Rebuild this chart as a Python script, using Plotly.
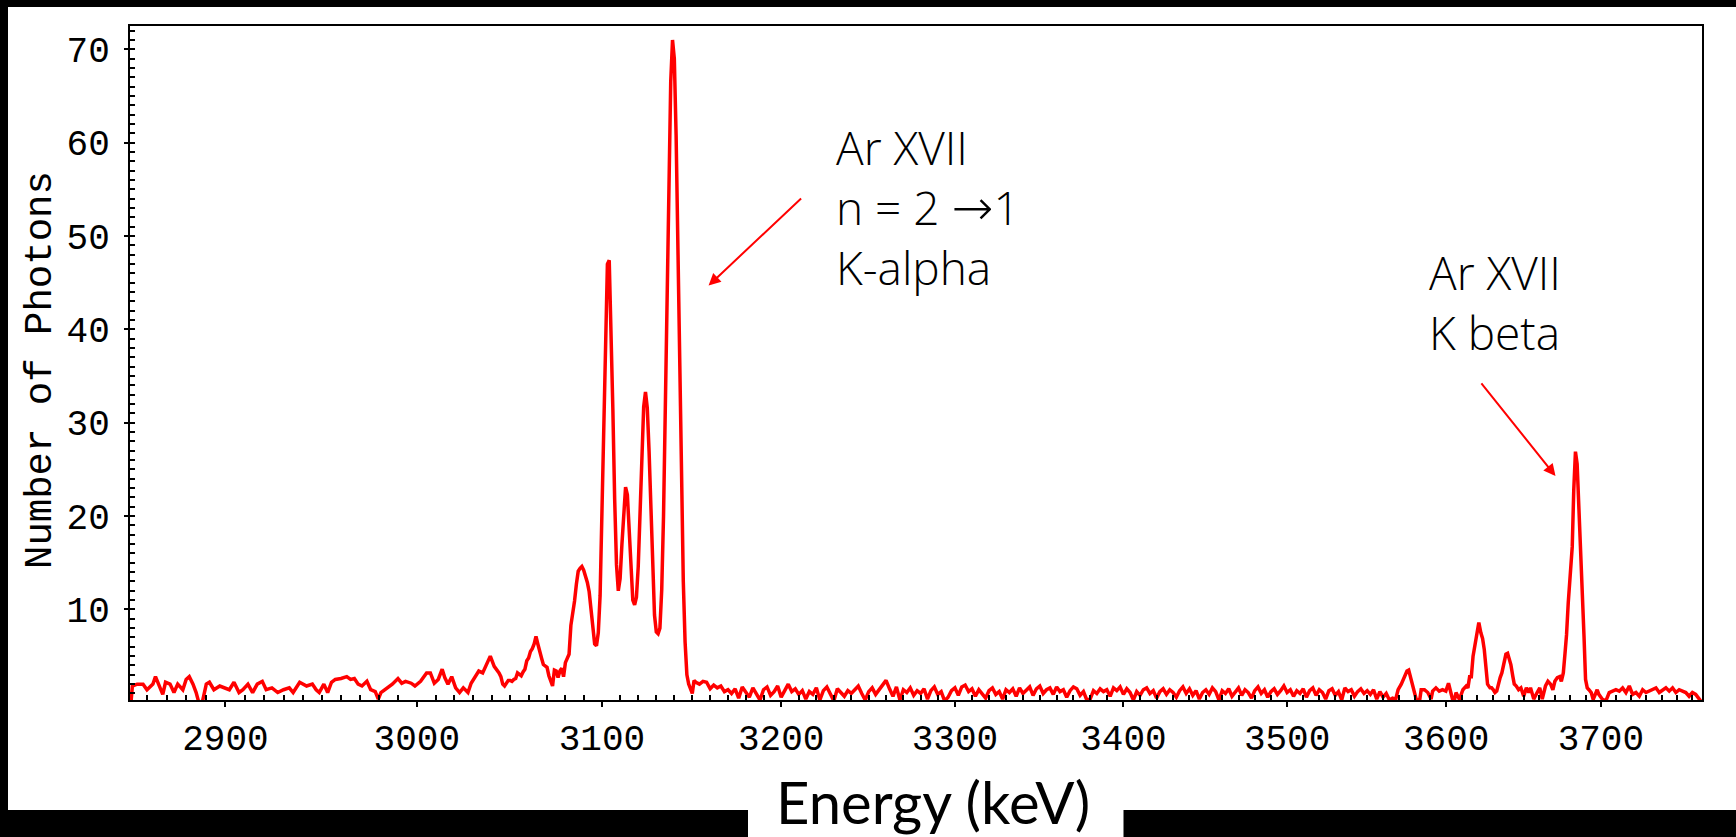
import numpy as np
import plotly.graph_objects as go

# ---------------- data ----------------
# Baseline left of the K-alpha complex
energy_left = [2852.0, 2852.6, 2855, 2858, 2860, 2863, 2864.3, 2866, 2868, 2869.4, 2871.7, 2873.7,
               2875.6, 2878.2, 2879.9, 2881.5, 2883.4, 2885, 2886.4, 2888.3, 2890.2, 2891.8, 2894.1,
               2897.1, 2900, 2902, 2904.4, 2907, 2909, 2911.6, 2914, 2916.4, 2919, 2921, 2924, 2927,
               2930, 2933, 2935, 2938.4, 2942, 2945, 2947, 2948.6, 2951, 2953, 2955, 2957, 2960, 2963,
               2965, 2967, 2969, 2971, 2973.6, 2975.6, 2978, 2979.6, 2981, 2983, 2985, 2987, 2990, 2992,
               2994, 2997, 2999, 3002, 3005.2, 3007.2, 3009.3, 3011.4, 3013.5, 3014.9, 3016.6, 3018.6,
               3020.7, 3022.8, 3024.8, 3027.3, 3029, 3031, 3033.1, 3035.2, 3036.8, 3039.3, 3041.4, 3043]
photons_left = [0.3, 1.8, 2.0, 2.0, 1.4, 2.0, 2.8, 1.8, 0.9, 2.2, 2.0, 1.1,
                2.0, 1.4, 2.5, 2.8, 2.0, 1.1, 0.0, 0.2, 2.0, 2.2, 1.4,
                1.8, 1.6, 1.4, 2.2, 1.1, 1.4, 2.0, 1.1, 2.0, 2.3, 1.4, 1.6, 1.1,
                1.4, 1.6, 1.1, 2.2, 1.8, 2.0, 1.4, 1.1, 2.0, 1.1, 2.2, 2.5, 2.6, 2.8,
                2.5, 2.6, 2.0, 1.8, 2.3, 1.4, 1.2, 0.4, 1.1, 1.4, 1.8, 2.0, 2.6, 2.1,
                2.3, 2.1, 1.8, 2.3, 3.2, 3.2, 2.1, 2.5, 3.6, 2.7, 2.0, 2.8,
                1.6, 1.1, 1.6, 1.1, 2.1, 2.7, 3.4, 3.2, 3.9, 5.0, 3.9, 3.5]

# K-alpha complex, 1 keV sampling
energy_kalpha = list(range(3044, 3152))
photons_kalpha = [3.2, 2.8, 2.0, 1.8, 2.2, 2.4, 2.4, 2.3, 2.5, 2.6,          # 3044-3053
                  3.2, 3.0, 2.9, 3.3, 3.6, 4.5, 4.8, 5.5, 5.8, 6.3,          # 3054-3063
                  7.1, 6.3, 5.7, 4.8, 4.1, 3.9, 3.8, 2.9, 2.2, 1.8,          # 3064-3073
                  3.5, 3.4, 2.7, 3.4, 3.7, 2.8, 4.3, 4.8, 5.2, 8.3,          # 3074-3083
                  9.5, 10.9, 12.7, 14.1, 14.4, 14.6, 14.2, 13.6, 12.9, 11.9, # 3084-3093
                  10.0, 8.2, 6.3, 6.1, 7.5, 11.5, 21.2, 31.4, 41.0, 47.0,    # 3094-3103
                  47.4, 41.0, 31.5, 21.8, 14.8, 12.0, 13.3, 17.0, 20.9, 23.1,# 3104-3113
                  22.3, 18.5, 13.7, 11.0, 10.5, 11.3, 14.6, 20.7, 27.1, 31.7,# 3114-3123
                  33.3, 31.6, 26.9, 20.6, 14.3, 9.4, 7.6, 7.4, 8.0, 12.1,    # 3124-3133
                  20.0, 30.8, 43.6, 56.5, 66.5, 71.0, 69.0, 60.8, 48.6, 35.2,# 3134-3143
                  22.9, 13.0, 6.5, 3.0, 2.0, 1.4, 1.0, 2.4]                  # 3144-3151

# Flat noisy baseline between the two line groups, 2 keV sampling
energy_mid = list(range(3152, 3570, 2))
photons_mid = [2.2, 2.0, 2.3, 2.2, 1.5, 1.9, 1.6, 1.8, 1.2, 1.4, 1.0, 1.5, 0.5, 1.7, 1.2, 0.6,   # 3152-3182
               1.6, 1.0, 0.3, 1.4, 1.7, 0.8, 1.2, 1.8, 0.6, 1.3, 2.0, 1.2, 1.5, 0.9, 1.3, 0.4,   # 3184-3214
               1.2, 0.9, 1.6, 0.3, 1.3, 1.7, 0.9, 0.2, 1.5, 1.1, 0.7, 1.3, 1.0, 1.4, 1.8, 1.0,   # 3216-3246
               0.3, 1.2, 1.6, 0.9, 1.4, 1.9, 2.4, 1.5, 0.7, 1.7, 0.3, 1.4, 1.1, 1.6, 0.8, 1.3,   # 3248-3278
               1.0, 1.5, 0.4, 1.3, 1.7, 0.9, 1.2, 0.2, 0.6, 1.3, 1.6, 0.8, 1.7, 1.9, 1.2, 1.5,   # 3280-3310
               0.7, 1.4, 1.0, 0.5, 1.3, 1.6, 0.9, 1.2, 0.4, 1.4, 1.1, 1.5, 0.7, 1.6, 1.0, 1.3,   # 3312-3342
               1.7, 0.8, 1.5, 1.8, 1.0, 1.4, 1.6, 0.9, 1.7, 1.2, 1.4, 0.6, 1.3, 1.7, 1.5, 0.8,   # 3344-3374
               1.2, 0.3, 0.4, 1.3, 1.0, 1.5, 1.2, 1.4, 0.7, 1.6, 1.3, 1.7, 0.9, 1.5, 1.1, 0.3,   # 3376-3406
               1.2, 0.8, 1.4, 1.6, 1.0, 1.3, 0.5, 1.2, 1.5, 0.9, 1.4, 1.1, 0.6, 1.3, 1.7, 1.0,   # 3408-3438
               1.5, 0.8, 1.3, 0.4, 1.1, 1.4, 0.9, 1.6, 1.2, 0.3, 1.3, 1.0, 1.5, 0.7, 1.2, 1.6,   # 3440-3470
               0.8, 1.4, 1.1, 0.5, 1.3, 1.7, 1.0, 1.4, 0.6, 1.2, 1.5, 0.9, 1.3, 1.8, 1.1, 1.4,   # 3472-3502
               0.7, 1.3, 1.0, 1.5, 0.6, 1.3, 1.6, 0.8, 1.4, 1.1, 0.4, 1.3, 1.5, 0.8, 1.2, 0.3,   # 3504-3534
               1.6, 1.2, 1.4, 0.7, 1.2, 1.5, 1.0, 1.3, 0.9, 1.4, 0.4, 1.2, 0.6, 1.0, 0.3, 0.5,   # 3536-3566
               0.4]                                                                              # 3568

# K-beta region
energy_kbeta = [3569.5, 3571.5, 3573.6, 3575.1, 3576.2, 3577.4, 3578.9, 3579.9, 3581, 3583.1, 3584.1,
                3586.2, 3588.3, 3590.4, 3591.4, 3593.5, 3595.6, 3597.7, 3599.8, 3601.5, 3603, 3604.1,
                3605.2, 3606.3, 3608.5, 3610.7, 3612.8, 3613.9, 3615, 3616.1, 3617.2, 3618.3, 3619.4,
                3620.9, 3622.2, 3623.3, 3624.4, 3625.4, 3626.5, 3628.1, 3629.1, 3630.2, 3631.3, 3632.4,
                3633.5, 3634.6, 3635.7, 3637.2, 3638.3, 3639.4, 3640.7, 3641.5, 3642.8, 3643.7, 3645,
                3646.5, 3648, 3649.8, 3651.5, 3653.1, 3654.2, 3656.3, 3658.5, 3660.2, 3661.8, 3663.9,
                3665.5, 3667.2, 3668.7, 3670, 3671.6, 3673.1, 3674.2, 3675.5, 3676.6, 3677.6, 3678.7,
                3680.3, 3681.3, 3682.3, 3683.4, 3684.5, 3685.6, 3686.8, 3687.9, 3689, 3690, 3691.1,
                3692.2, 3693.7, 3695, 3696.5, 3697.6, 3698.7, 3701.1, 3703.3, 3705.5, 3707.7, 3709.9,
                3712.1, 3714.3, 3716.5, 3718.7, 3720.9, 3723.1, 3725.3, 3727.5, 3729.7, 3731.9, 3734.1,
                3736.3, 3738.5, 3740.7, 3742.9, 3745.1, 3747.3, 3749.5, 3751.7, 3753.9, 3756.1, 3758.3,
                3760.5, 3762.7, 3764.9, 3766]
photons_kbeta = [1.4, 2.0, 2.7, 3.4, 3.5, 2.7, 2.0, 1.4, 0.36, 0.2, 1.4,
                 1.4, 1.1, 0.4, 1.25, 1.6, 1.25, 1.4, 1.25, 2.1, 1.1, 0.36,
                 0.2, 1.1, 0.36, 1.4, 1.8, 1.6, 2.8, 2.8, 5.0, 6.1, 7.5,
                 8.6, 7.5, 6.9, 5.7, 3.9, 2.0, 1.6, 1.6, 1.4, 1.1, 1.25,
                 2.1, 2.7, 3.2, 4.4, 5.2, 5.3, 4.6, 4.1, 2.8, 2.0, 1.8,
                 1.4, 1.6, 0.7, 1.6, 1.1, 1.6, 0.4, 1.1, 1.6, 0.4, 1.8,
                 2.3, 2.0, 1.4, 2.3, 2.7, 2.8, 2.3, 3.2, 5.3, 7.3, 10.7,
                 14.7, 16.7, 22.8, 26.9, 25.6, 21.3, 16.2, 13.3, 7.1, 2.5, 1.6,
                 1.4, 1.1, 0.36, 1.1, 1.4, 0.9, 0.36, 0.2, 1.1, 1.25, 1.4,
                 1.25, 1.6, 1.1, 1.8, 0.9, 1.1, 0.7, 1.4, 1.1, 1.25, 1.4,
                 1.6, 1.1, 1.4, 1.6, 1.25, 1.6, 1.1, 1.4, 1.25, 1.1, 0.7,
                 1.1, 0.9, 0.36, 0.2]

energy = energy_left + energy_kalpha + energy_mid + energy_kbeta
photons = photons_left + photons_kalpha + photons_mid + photons_kbeta

x_range_kev = [2851.4, 3766.9]
y_range = [0.3, 72.5]
x_major = [2900, 3000, 3100, 3200, 3300, 3400, 3500, 3600, 3700]
x_minor = [v for v in range(2860, 3770, 10) if v % 100 != 0]
y_major = [10, 20, 30, 40, 50, 60, 70]

# ---------------- figure ----------------
W, H = 1736, 837
L, R, T, B = 130, 34, 26, 137
pw, ph = W - L - R, H - T - B


def px2paper_x(px):
    return (px - L) / pw


def py2paper_y(py):
    return (H - B - py) / ph


fig = go.Figure()
fig.add_trace(go.Scatter(x=energy, y=photons, mode="lines",
                         line=dict(color="#ff0000", width=3.5), hoverinfo="x+y",
                         showlegend=False, cliponaxis=True))

tick_font = dict(family="Liberation Mono", size=36, color="black")
xr = [float(np.log10(x_range_kev[0])), float(np.log10(x_range_kev[1]))]

fig.update_layout(
    width=W, height=H,
    margin=dict(l=L, r=R, t=T, b=B),
    paper_bgcolor="white", plot_bgcolor="white",
    xaxis=dict(type="log", range=xr, tickmode="array", tickvals=x_major,
               ticktext=[str(v) for v in x_major], ticks="outside", ticklen=5,
               tickwidth=1.5, tickcolor="black", tickfont=tick_font,
               ticklabelstandoff=0,
               showline=True, linecolor="black", linewidth=2, mirror=True,
               showgrid=False, zeroline=False,
               minor=dict(tickmode="array", tickvals=x_minor, ticks="inside",
                          ticklen=5, tickwidth=1.5, tickcolor="black", showgrid=False)),
    yaxis=dict(range=y_range, tickmode="array", tickvals=y_major,
               ticks="outside", ticklen=4, tickwidth=1.5, tickcolor="black",
               tickfont=tick_font, ticklabelstandoff=7,
               showline=True, linecolor="black", linewidth=2, mirror=True,
               showgrid=False, zeroline=False,
               minor=dict(dtick=1, ticks="inside", ticklen=5, tickwidth=1.5,
                          tickcolor="black", showgrid=False)),
    xaxis2=dict(type="log", range=xr, overlaying="x", anchor="y", tickmode="array",
                tickvals=x_major, ticks="inside", ticklen=5, tickwidth=1.5,
                tickcolor="black", showticklabels=False, showline=False,
                showgrid=False, zeroline=False),
    yaxis2=dict(range=y_range, overlaying="y", anchor="x", side="left", tickmode="array",
                tickvals=y_major, ticks="inside", ticklen=5, tickwidth=1.5,
                tickcolor="black", showticklabels=False, showline=False,
                showgrid=False, zeroline=False),
)

label_font = dict(family="Open Sans", size=46, color="black", weight=300)
arrow_span = '<span style="font-family:DejaVu Sans;font-size:50px">→</span>'

annotations = [
    dict(text="Number of Photons", x=px2paper_x(41), y=py2paper_y(370), xref="paper",
         yref="paper", textangle=-90, showarrow=False, xanchor="center", yanchor="middle",
         font=dict(family="Liberation Mono", size=39, color="black")),
    dict(text="Energy (keV)", x=px2paper_x(933), y=py2paper_y(801), xref="paper",
         yref="paper", showarrow=False, xanchor="center", yanchor="middle",
         font=dict(family="Lato", size=58, color="black")),
    dict(text="Ar XVII<br>n = 2 " + arrow_span + "1<br>K-alpha",
         x=px2paper_x(834), y=py2paper_y(207), xref="paper", yref="paper",
         showarrow=False, xanchor="left", yanchor="middle", align="left", font=label_font),
    dict(text="Ar XVII<br>K beta", x=px2paper_x(1427), y=py2paper_y(302), xref="paper",
         yref="paper", showarrow=False, xanchor="left", yanchor="middle", align="left",
         font=label_font),
    dict(text="", x=px2paper_x(708.6), y=py2paper_y(285.6), xref="paper", yref="paper",
         showarrow=True, ax=94, ay=-88.6, arrowhead=2, arrowsize=1.2, arrowwidth=2,
         arrowcolor="#ff0000", standoff=0),
    dict(text="", x=px2paper_x(1555.5), y=py2paper_y(476), xref="paper", yref="paper",
         showarrow=True, ax=-75.3, ay=-94.1, arrowhead=2, arrowsize=1.2, arrowwidth=2,
         arrowcolor="#ff0000", standoff=0),
]
fig.update_layout(annotations=annotations)

# black frame around the slide
shapes = [
    dict(type="rect", xref="paper", yref="paper", x0=-0.2, x1=1.2,
         y0=py2paper_y(7), y1=py2paper_y(-20)),
    dict(type="rect", xref="paper", yref="paper", x0=px2paper_x(-20), x1=px2paper_x(8),
         y0=py2paper_y(860), y1=py2paper_y(-20)),
    dict(type="rect", xref="paper", yref="paper", x0=px2paper_x(-20), x1=px2paper_x(748),
         y0=py2paper_y(860), y1=py2paper_y(810)),
    dict(type="rect", xref="paper", yref="paper", x0=px2paper_x(1123.5), x1=px2paper_x(1760),
         y0=py2paper_y(860), y1=py2paper_y(810)),
]
for s in shapes:
    s.update(fillcolor="black", line=dict(width=0), layer="above")
fig.update_layout(shapes=shapes)

fig.write_html("out.html", config={"displayModeBar": False},
               post_script="document.body.style.margin='0';document.body.style.overflow='hidden';")
